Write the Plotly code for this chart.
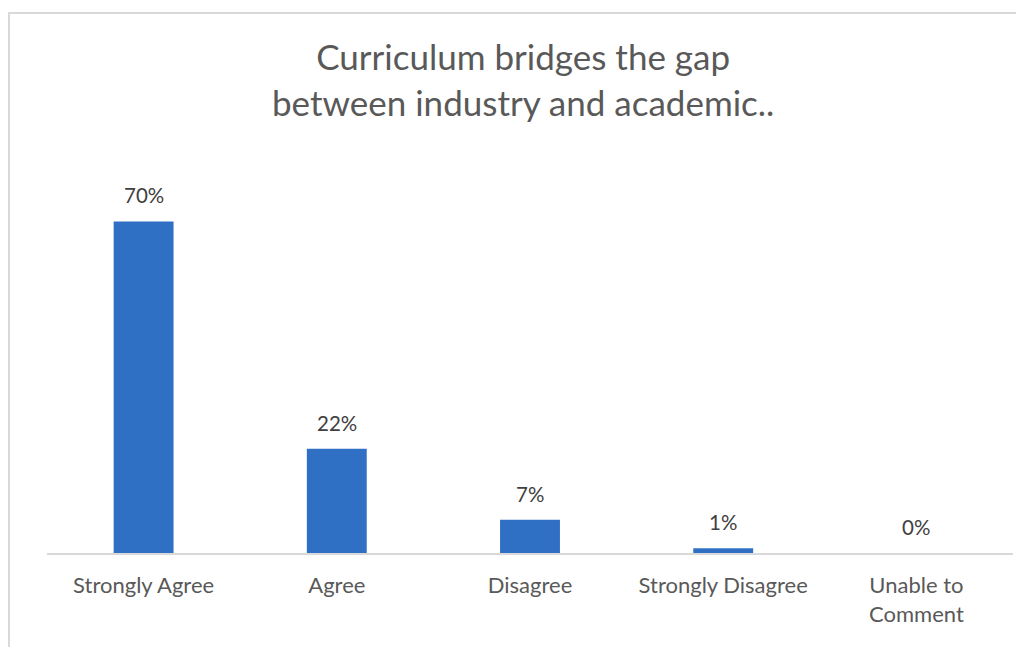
import plotly.graph_objects as go

categories = ["Strongly Agree", "Agree", "Disagree", "Strongly Disagree", "Unable to<br>Comment"]
values = [0.70, 0.22, 0.07, 0.01, 0.0]
labels = ["70%", "22%", "7%", "1%", "0%"]
title_text = "Curriculum bridges the gap<br>between industry and academic.."

W, H = 1024, 647
OFF = 8  # page body margin
L, R, T, B = 47 - OFF, 19, 174 - OFF, 102
pw, ph = W - L - R, H - T - B

def px_x(p):
    return (p - OFF - L) / pw

def px_y(p):
    return (H - B - (p - OFF)) / ph

FONT = "Lato, 'Open Sans', sans-serif"

fig = go.Figure()
fig.add_trace(go.Bar(
    x=categories, y=values,
    marker=dict(color="#3070C4", line=dict(width=0)),
    width=0.31,
    hoverinfo="skip",
))

for c, v, t in zip(categories, values, labels):
    fig.add_annotation(x=c, y=v, text=t, showarrow=False, yshift=26,
                       font=dict(size=20.5, color="#404040", family=FONT),
                       xref="x", yref="y")

fig.add_annotation(text=title_text, x=px_x(523), y=px_y(79), xref="paper", yref="paper",
                   showarrow=False, xanchor="center", yanchor="middle",
                   font=dict(size=35, color="#595959", family=FONT), align="center")

fig.add_shape(type="rect", xref="paper", yref="paper",
              x0=px_x(9), x1=px_x(1045), y0=px_y(670), y1=px_y(13),
              line=dict(color="#d9d9d9", width=2), fillcolor="rgba(0,0,0,0)", layer="below")

fig.update_layout(
    width=W, height=H,
    margin=dict(l=L, r=R, t=T, b=B),
    paper_bgcolor="white", plot_bgcolor="white",
    showlegend=False,
    font=dict(family=FONT, color="#595959"),
    xaxis=dict(showline=True, linecolor="#d9d9d9", linewidth=1.5, showgrid=False,
               ticks="", ticklabelstandoff=12, tickfont=dict(size=22, color="#595959", family=FONT),
               range=[-0.5, 4.5], fixedrange=True),
    yaxis=dict(range=[0, 0.8], showgrid=False, showticklabels=False, zeroline=False,
               showline=False, ticks="", fixedrange=True),
)

fig.write_html("out.html")
